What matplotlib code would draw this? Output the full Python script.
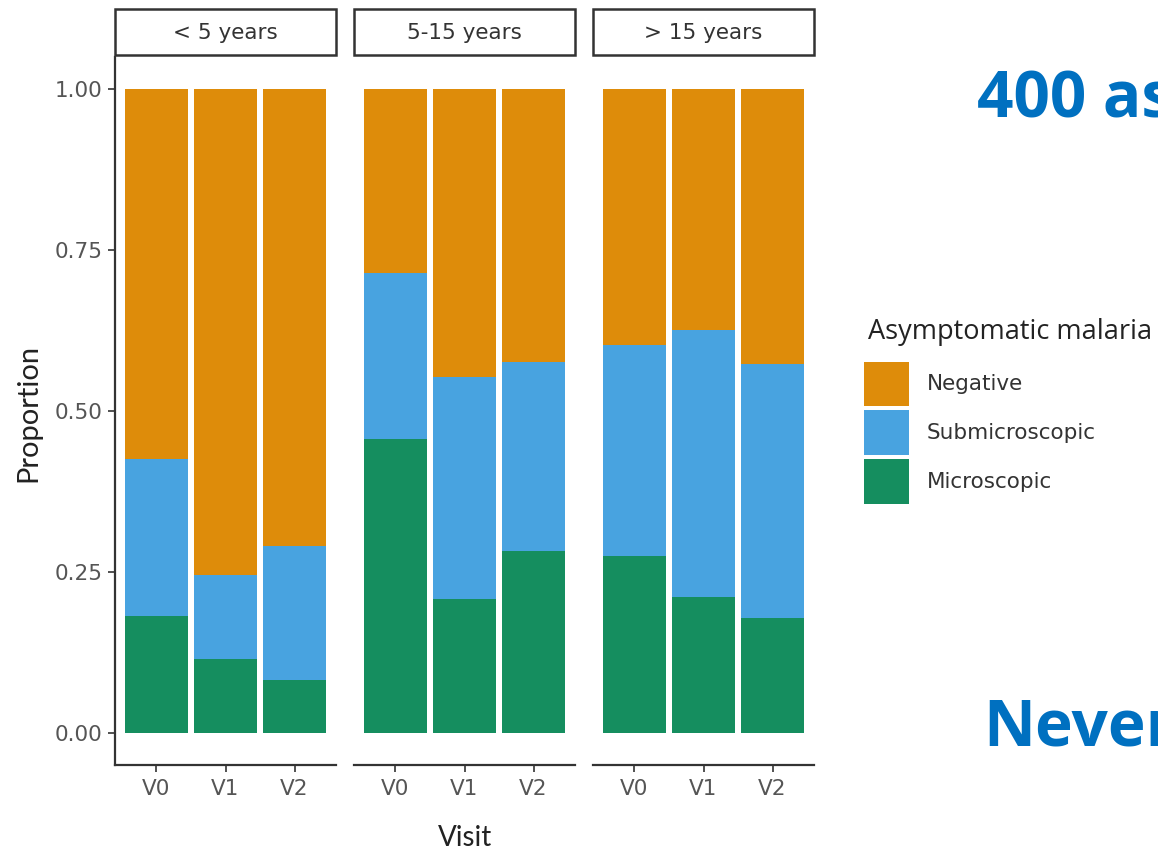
import matplotlib
matplotlib.use("Agg")
import matplotlib.pyplot as plt
from matplotlib.patches import Patch, Rectangle

# ── Data ─────────────────────────────────────────────────────────────────────
age_groups = ["< 5 years", "5-15 years", "> 15 years"]
visits = ["V0", "V1", "V2"]

# proportion per visit, one list per age group
microscopic = [
    [0.181, 0.115, 0.082],
    [0.456, 0.208, 0.282],
    [0.275, 0.211, 0.178],
]
submicroscopic = [
    [0.245, 0.130, 0.209],
    [0.259, 0.345, 0.294],
    [0.327, 0.415, 0.395],
]
negative = [
    [0.574, 0.755, 0.709],
    [0.285, 0.447, 0.424],
    [0.398, 0.374, 0.427],
]

legend_title = "Asymptomatic malaria"
status_labels = ["Negative", "Submicroscopic", "Microscopic"]

# ── Style ────────────────────────────────────────────────────────────────────
COL_NEG = "#DE8C0A"
COL_SUB = "#48A3E0"
COL_MIC = "#158E5F"
AXIS_COL = "#333333"
TICK_COL = "#555555"
BLUE_TXT = "#0070C0"
TXT_SIZE = 15.5

W, H = 1158, 852
fig = plt.figure(figsize=(W / 100, H / 100), dpi=100)


def px_axes(x0, y0, x1, y1):
    """Axes from pixel box (top-left origin)."""
    return fig.add_axes([x0 / W, 1 - y1 / H, (x1 - x0) / W, (y1 - y0) / H])


panel_x = [115, 354, 593]
panel_w = 221
top, bottom = 57, 765

for i, grp in enumerate(age_groups):
    x0 = panel_x[i]
    ax = px_axes(x0, top, x0 + panel_w, bottom)
    pos = range(len(visits))
    mic = microscopic[i]
    sub = submicroscopic[i]
    neg = negative[i]
    ax.bar(pos, mic, width=0.9, color=COL_MIC, linewidth=0)
    ax.bar(pos, sub, width=0.9, bottom=mic, color=COL_SUB, linewidth=0)
    base = [m + s for m, s in zip(mic, sub)]
    ax.bar(pos, neg, width=0.9, bottom=base, color=COL_NEG, linewidth=0)

    ax.set_xlim(-0.6, 2.6)
    ax.set_ylim(-0.05, 1.05)
    ax.set_xticks(list(pos))
    ax.set_xticklabels(visits)
    for s in ["top", "right"]:
        ax.spines[s].set_visible(False)
    ax.spines["bottom"].set_color(AXIS_COL)
    ax.spines["bottom"].set_linewidth(1.6)
    ax.tick_params(axis="x", colors=AXIS_COL, length=5, width=1.2,
                   labelsize=TXT_SIZE, labelcolor=TICK_COL, pad=5)
    if i == 0:
        ax.spines["left"].set_color(AXIS_COL)
        ax.spines["left"].set_linewidth(1.6)
        ax.set_yticks([0, 0.25, 0.5, 0.75, 1.0])
        ax.set_yticklabels(["0.00", "0.25", "0.50", "0.75", "1.00"])
        ax.tick_params(axis="y", colors=AXIS_COL, length=5, width=1.2,
                       labelsize=TXT_SIZE, labelcolor=TICK_COL, pad=4)
    else:
        ax.spines["left"].set_visible(False)
        ax.set_yticks([])

    # facet strip
    sax = px_axes(x0, 9, x0 + panel_w, 55)
    sax.set_xlim(0, 1)
    sax.set_ylim(0, 1)
    sax.axis("off")
    sax.add_patch(Rectangle((0, 0), 1, 1, facecolor="white",
                            edgecolor=AXIS_COL, linewidth=1.8,
                            transform=sax.transAxes, clip_on=False))
    sax.text(0.5, 0.48, grp, ha="center", va="center",
             fontsize=TXT_SIZE, color="#333333")

# axis titles
fig.text(465 / W, 1 - 838 / H, "Visit", ha="center", va="center",
         fontsize=20, family="Lato", color="#222222")
fig.text(28 / W, 1 - 413 / H, "Proportion", ha="center", va="center",
         rotation=90, fontsize=21, family="Lato", color="#222222")

# legend: title drawn separately so the gap above the keys can be set
fig.text(868 / W, 1 - 332 / H, legend_title, ha="left", va="center",
         fontsize=19.5, family="Open Sans", color="#222222")
handles = [Patch(facecolor=c, edgecolor="none") for c in (COL_NEG, COL_SUB, COL_MIC)]
leg = fig.legend(handles, status_labels,
                 loc="upper left", bbox_to_anchor=(855 / W, 1 - 353 / H),
                 frameon=False, fontsize=15.5,
                 handlelength=2.1, handleheight=2.8, labelspacing=0.2,
                 handletextpad=0.85, borderaxespad=0)
for t in leg.get_texts():
    t.set_color("#333333")

# headline fragments
fig.text(977 / W, 1 - 118 / H, "400 as", ha="left", va="baseline",
         fontsize=46, fontweight="bold", family="Open Sans", color=BLUE_TXT)
fig.text(983 / W, 1 - 745 / H, "Never", ha="left", va="baseline",
         fontsize=46, fontweight="bold", family="Open Sans", color=BLUE_TXT)

fig.savefig("out.png", dpi=100, facecolor="white")
